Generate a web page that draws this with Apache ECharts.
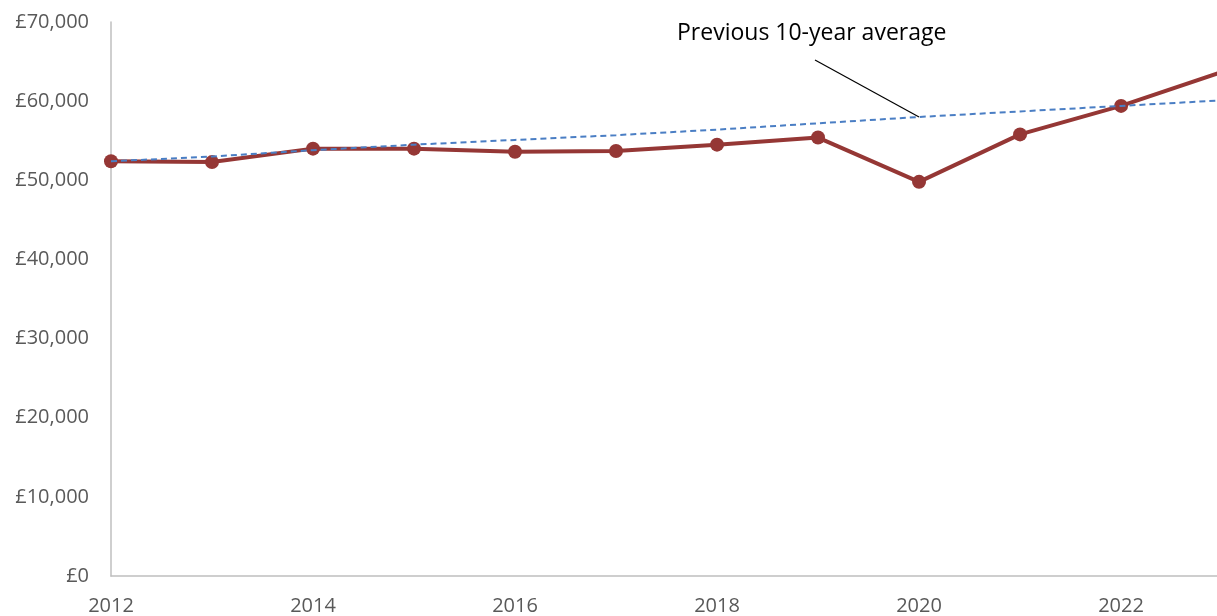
<!DOCTYPE html>
<html>
<head>
<meta charset="utf-8">
<script src="https://cdn.jsdelivr.net/npm/echarts@6/dist/echarts.min.js"></script>
<style>
html,body{margin:0;padding:0;background:#fff;}
#chart{width:1217px;height:616px;}
</style>
</head>
<body>
<div id="chart"></div>
<script type="text/javascript">
// years and values
var years = [2012, 2013, 2014, 2015, 2016, 2017, 2018, 2019, 2020, 2021, 2022, 2023];
var actual = [52400, 52300, 54000, 54000, 53600, 53700, 54500, 55400, 49800, 55800, 59400, 63700];
var avg10 = [52400, 53000, 53800, 54500, 55100, 55700, 56400, 57200, 58000, 58700, 59400, 60100];
var yTicks = [0, 10000, 20000, 30000, 40000, 50000, 60000, 70000];
var noteText = 'Previous 10-year average';

function pairs(vals){
	var out = [];
	for (var i = 0; i < years.length; i++) out.push([years[i], vals[i]]);
	return out;
}

var chart = echarts.init(document.getElementById('chart'));
var axisGrey = '#595959';
var fontFam = '"Open Sans", "Noto Sans", sans-serif';

chart.setOption({
	animation: false,
	grid: { left: 111, right: 0, top: 22, bottom: 40 },
	graphic: [{
		type: 'text',
		left: 677, top: 22,
		style: { text: noteText, fill: '#000', font: '23px ' + fontFam }
	}],
	xAxis: {
		type: 'value',
		// plot is cut at the right edge, just short of 2023
		min: years[0], max: 2022.95, interval: 2,
		axisLine: { show: true, lineStyle: { color: '#BFBFBF', width: 1.5 } },
		axisTick: { show: false },
		splitLine: { show: false },
		axisLabel: {
			color: axisGrey, fontSize: 20, fontFamily: fontFam, margin: 20,
			showMaxLabel: false,
			formatter: function(v){ return String(v); }
		}
	},
	yAxis: {
		type: 'value',
		min: yTicks[0], max: yTicks[yTicks.length - 1], interval: 10000,
		axisLine: { show: true, lineStyle: { color: '#BFBFBF', width: 1.5 } },
		axisTick: { show: false },
		splitLine: { show: false },
		axisLabel: {
			color: axisGrey, fontSize: 20, fontFamily: fontFam, margin: 22,
			formatter: function(v){ return '£' + v.toLocaleString('en-GB'); }
		}
	},
	series: [{
		name: 'Previous 10-year average',
		type: 'line',
		data: pairs(avg10),
		symbol: 'none',
		z: 3,
		lineStyle: { color: '#4A7EC4', width: 2, type: [6, 4] },
		markLine: {
			silent: true,
			symbol: 'none',
			label: { show: false },
			lineStyle: { color: '#000', width: 1.2, type: 'solid' },
			data: [[
				{ coord: [2018.97, 65200] },
				{ coord: [years[8], avg10[8]] }
			]]
		}
	}, {
		name: 'Value',
		type: 'line',
		data: pairs(actual),
		symbol: 'circle',
		symbolSize: 14,
		z: 2,
		lineStyle: { color: '#953735', width: 4 },
		itemStyle: { color: '#953735' }
	}]
});
</script>
</body>
</html>
